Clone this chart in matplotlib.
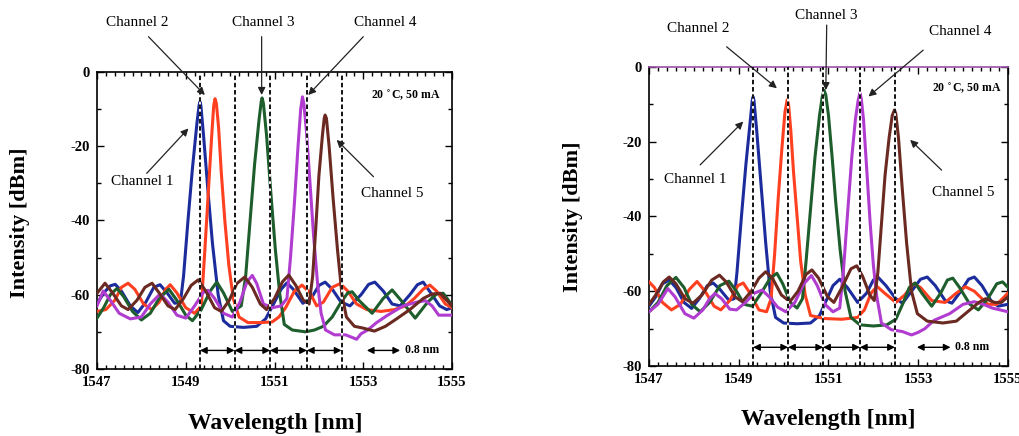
import numpy as np
import matplotlib
matplotlib.use("Agg")
import matplotlib.pyplot as plt
from matplotlib.ticker import MultipleLocator, FixedLocator

plt.rcParams['font.family'] = ['Liberation Serif', 'DejaVu Serif']
plt.rcParams['axes.unicode_minus'] = False

# ---------------- data (wavelength nm, intensity dBm) ----------------
blue_L = [(1547.00,-62.5),(1547.15,-59.5),(1547.30,-57.6),(1547.41,-57.2),(1547.55,-59.0),(1547.75,-63.0),
          (1547.92,-64.8),(1548.10,-62.0),(1548.28,-58.0),(1548.42,-57.3),(1548.58,-59.5),(1548.75,-62.3),
          (1548.88,-62.0),(1548.95,-55.0),(1549.05,-40.0),(1549.15,-26.0),(1549.25,-14.0),(1549.30,-9.0),
          (1549.32,-8.0),(1549.34,-9.0),(1549.40,-17.0),(1549.50,-32.0),(1549.60,-46.0),(1549.73,-60.0),
          (1549.85,-67.0),(1550.00,-68.5),(1550.30,-68.8),(1550.60,-68.5),(1550.80,-66.5),(1551.00,-62.0),
          (1551.15,-58.5),(1551.28,-56.8),(1551.42,-58.5),(1551.64,-62.3),(1551.85,-60.5),(1552.00,-57.5),
          (1552.14,-56.6),(1552.30,-58.5),(1552.50,-62.0),(1552.70,-63.0),(1552.95,-60.0),(1553.12,-57.2),
          (1553.26,-56.6),(1553.45,-59.0),(1553.65,-62.5),(1553.83,-63.0),(1554.05,-60.0),(1554.22,-57.3),
          (1554.35,-56.6),(1554.52,-59.5),(1554.72,-63.0),(1554.88,-64.0),(1555.00,-63.5)]
red_L = [(1547.00,-64.5),(1547.20,-64.0),(1547.40,-61.5),(1547.55,-58.0),(1547.70,-56.9),(1547.85,-58.5),
         (1548.05,-62.5),(1548.23,-64.0),(1548.40,-62.0),(1548.55,-58.5),(1548.65,-57.3),(1548.80,-59.5),
         (1549.00,-63.5),(1549.20,-65.0),(1549.35,-63.0),(1549.42,-50.0),(1549.50,-34.0),(1549.58,-18.0),
         (1549.63,-9.0),(1549.66,-7.2),(1549.69,-8.5),(1549.74,-15.0),(1549.80,-27.0),(1549.88,-40.0),
         (1549.97,-52.0),(1550.07,-61.0),(1550.20,-66.0),(1550.40,-67.5),(1550.70,-67.5),(1550.95,-67.3),
         (1551.10,-66.0),(1551.25,-63.5),(1551.45,-59.0),(1551.62,-57.4),(1551.80,-59.5),(1551.95,-63.0),
         (1552.10,-62.0),(1552.30,-58.0),(1552.48,-57.0),(1552.65,-59.0),(1552.85,-62.5),(1553.08,-64.0),
         (1553.40,-64.5),(1553.70,-64.0),(1553.95,-63.0),(1554.15,-61.0),(1554.35,-58.5),(1554.50,-57.4),
         (1554.65,-59.0),(1554.85,-62.5),(1555.00,-63.5)]
green_L = [(1547.00,-66.3),(1547.15,-63.5),(1547.30,-60.0),(1547.45,-58.3),(1547.60,-60.5),(1547.80,-64.5),
           (1548.00,-66.8),(1548.20,-65.0),(1548.40,-61.0),(1548.62,-58.5),(1548.80,-61.5),(1549.00,-65.5),
           (1549.15,-67.0),(1549.35,-64.0),(1549.55,-59.0),(1549.70,-56.6),(1549.85,-59.5),(1550.05,-64.5),
           (1550.25,-63.0),(1550.35,-55.0),(1550.45,-40.0),(1550.55,-25.0),(1550.65,-13.0),(1550.70,-8.0),
           (1550.72,-7.0),(1550.75,-8.5),(1550.82,-17.0),(1550.92,-33.0),(1551.02,-48.0),(1551.12,-60.0),
           (1551.22,-68.0),(1551.40,-69.5),(1551.70,-70.0),(1551.90,-69.5),(1552.10,-68.5),(1552.30,-66.0),
           (1552.50,-62.0),(1552.65,-59.5),(1552.75,-59.2),(1552.90,-61.5),(1553.20,-65.0),(1553.45,-61.0),
           (1553.65,-58.7),(1553.85,-61.5),(1554.17,-66.3),(1554.45,-62.0),(1554.65,-59.8),(1554.80,-59.6),
           (1554.92,-61.5),(1555.00,-63.0)]
magenta_L = [(1547.00,-63.0),(1547.14,-59.0),(1547.30,-61.5),(1547.50,-65.0),(1547.75,-66.5),(1548.00,-66.0),
             (1548.20,-62.5),(1548.42,-59.8),(1548.60,-62.0),(1548.80,-65.5),(1549.00,-66.3),(1549.20,-63.0),
             (1549.40,-59.3),(1549.50,-58.8),(1549.65,-61.0),(1549.85,-65.0),(1550.05,-66.0),(1550.22,-62.0),
             (1550.38,-56.5),(1550.50,-54.8),(1550.60,-57.0),(1550.75,-62.5),(1550.95,-63.5),(1551.15,-63.0),
             (1551.28,-61.0),(1551.36,-50.0),(1551.45,-35.0),(1551.53,-20.0),(1551.59,-10.0),(1551.63,-6.7),
             (1551.66,-8.5),(1551.72,-16.0),(1551.80,-30.0),(1551.88,-44.0),(1551.97,-57.0),(1552.05,-65.0),
             (1552.15,-69.5),(1552.35,-70.8),(1552.60,-70.8),(1552.75,-71.5),(1552.85,-72.0),(1552.95,-70.5),
             (1553.10,-69.5),(1553.30,-67.5),(1553.55,-65.5),(1553.90,-63.0),(1554.20,-62.0),(1554.40,-61.6),
             (1554.55,-63.0),(1554.70,-65.5),(1555.00,-65.5)]
brown_L = [(1547.00,-59.6),(1547.18,-56.9),(1547.35,-59.5),(1547.55,-63.0),(1547.70,-64.0),(1547.90,-61.5),
           (1548.08,-58.0),(1548.24,-56.9),(1548.40,-59.5),(1548.60,-63.0),(1548.76,-64.0),(1548.95,-61.0),
           (1549.12,-57.5),(1549.28,-56.0),(1549.45,-59.0),(1549.65,-63.5),(1549.80,-64.5),(1549.98,-61.5),
           (1550.15,-57.0),(1550.33,-55.2),(1550.50,-58.0),(1550.68,-62.5),(1550.82,-64.0),(1551.00,-61.0),
           (1551.18,-56.5),(1551.32,-54.7),(1551.48,-57.5),(1551.65,-61.5),(1551.78,-62.5),(1551.86,-55.0),
           (1551.93,-42.0),(1552.00,-28.0),(1552.08,-17.0),(1552.12,-12.5),(1552.14,-11.6),(1552.17,-12.5),
           (1552.23,-20.0),(1552.32,-34.0),(1552.42,-48.0),(1552.52,-60.0),(1552.62,-66.0),(1552.80,-68.5),
           (1553.00,-69.0),(1553.25,-69.8),(1553.50,-68.5),(1553.75,-66.5),(1554.05,-64.0),(1554.35,-61.0),
           (1554.55,-59.8),(1554.73,-59.6),(1554.88,-61.5),(1555.00,-63.0)]

blue_R = [(1547.00,-64.0),(1547.15,-61.5),(1547.30,-58.0),(1547.45,-57.0),(1547.60,-59.0),(1547.78,-63.0),
          (1547.95,-64.6),(1548.12,-62.0),(1548.30,-58.5),(1548.43,-57.8),(1548.58,-59.5),(1548.78,-62.4),
          (1548.90,-62.0),(1548.96,-55.0),(1549.06,-40.0),(1549.16,-26.0),(1549.26,-14.0),(1549.30,-9.0),
          (1549.32,-8.0),(1549.34,-9.0),(1549.40,-17.0),(1549.50,-32.0),(1549.60,-47.0),(1549.70,-60.0),
          (1549.82,-67.0),(1550.00,-68.5),(1550.30,-68.7),(1550.60,-68.5),(1550.80,-66.5),(1550.95,-62.5),
          (1551.10,-58.5),(1551.25,-56.8),(1551.42,-59.0),(1551.65,-63.0),(1551.85,-60.5),(1552.00,-57.0),
          (1552.10,-56.2),(1552.28,-58.5),(1552.50,-62.0),(1552.65,-63.2),(1552.85,-60.0),(1553.05,-56.8),
          (1553.20,-56.2),(1553.38,-58.5),(1553.60,-62.5),(1553.75,-63.2),(1553.95,-60.0),(1554.12,-56.8),
          (1554.25,-56.2),(1554.42,-58.5),(1554.62,-62.5),(1554.78,-64.0),(1555.00,-63.5)]
red_R = [(1547.00,-57.5),(1547.12,-59.0),(1547.30,-63.0),(1547.50,-65.0),(1547.70,-63.5),(1547.90,-59.5),
         (1548.07,-57.4),(1548.25,-60.0),(1548.45,-64.0),(1548.60,-65.0),(1548.80,-62.5),(1548.98,-58.5),
         (1549.10,-57.8),(1549.25,-60.5),(1549.45,-65.0),(1549.62,-65.5),(1549.72,-62.0),(1549.80,-50.0),
         (1549.88,-35.0),(1549.96,-22.0),(1550.03,-12.0),(1550.08,-8.8),(1550.11,-10.0),(1550.16,-17.0),
         (1550.22,-28.0),(1550.30,-40.0),(1550.38,-52.0),(1550.48,-61.0),(1550.60,-66.5),(1550.90,-67.3),
         (1551.30,-67.5),(1551.65,-67.0),(1551.80,-65.0),(1551.95,-60.5),(1552.08,-58.7),(1552.25,-60.5),
         (1552.50,-63.0),(1552.70,-61.0),(1552.90,-58.0),(1553.05,-59.0),(1553.30,-62.5),(1553.60,-63.0),
         (1553.85,-60.5),(1554.05,-58.8),(1554.25,-60.0),(1554.55,-63.5),(1554.75,-63.5),(1555.00,-60.5)]
green_R = [(1547.00,-65.5),(1547.20,-63.0),(1547.40,-58.5),(1547.60,-56.3),(1547.78,-59.0),(1547.95,-63.5),
           (1548.14,-65.5),(1548.35,-63.0),(1548.58,-58.5),(1548.78,-57.3),(1548.95,-60.0),(1549.12,-63.5),
           (1549.30,-64.0),(1549.50,-60.5),(1549.70,-56.5),(1549.85,-55.2),(1549.98,-58.0),(1550.15,-63.0),
           (1550.30,-64.5),(1550.42,-62.0),(1550.50,-52.0),(1550.60,-38.0),(1550.70,-24.0),(1550.80,-13.0),
           (1550.86,-8.0),(1550.90,-6.2),(1550.94,-7.5),(1551.00,-13.0),(1551.08,-24.0),(1551.16,-36.0),
           (1551.26,-49.0),(1551.37,-60.0),(1551.50,-67.0),(1551.70,-69.0),(1552.00,-69.3),(1552.30,-69.0),
           (1552.50,-67.5),(1552.65,-63.5),(1552.80,-59.0),(1552.93,-57.8),(1553.08,-60.5),(1553.30,-64.0),
           (1553.50,-60.5),(1553.65,-57.0),(1553.77,-56.5),(1553.92,-59.0),(1554.15,-63.5),(1554.34,-65.0),
           (1554.55,-62.0),(1554.75,-58.0),(1554.88,-57.5),(1555.00,-59.0)]
magenta_R = [(1547.00,-65.5),(1547.20,-63.5),(1547.42,-59.3),(1547.58,-61.5),(1547.80,-66.0),(1548.00,-67.2),
             (1548.20,-65.0),(1548.35,-62.0),(1548.47,-60.6),(1548.62,-62.0),(1548.80,-64.8),(1548.95,-65.0),
             (1549.15,-63.0),(1549.35,-60.5),(1549.52,-59.7),(1549.68,-61.5),(1549.87,-64.3),(1550.05,-65.5),
             (1550.25,-63.0),(1550.45,-58.0),(1550.62,-55.8),(1550.75,-58.5),(1550.92,-63.5),(1551.10,-65.5),
             (1551.25,-64.5),(1551.33,-55.0),(1551.42,-40.0),(1551.52,-24.0),(1551.60,-14.0),(1551.66,-9.0),
             (1551.70,-7.0),(1551.73,-8.5),(1551.78,-14.0),(1551.85,-27.0),(1551.93,-42.0),(1552.00,-53.0),
             (1552.07,-61.0),(1552.18,-68.5),(1552.40,-70.3),(1552.65,-70.8),(1552.85,-71.7),(1553.00,-71.0),
             (1553.15,-70.0),(1553.35,-67.8),(1553.70,-66.0),(1554.00,-63.5),(1554.25,-62.8),(1554.45,-63.5),
             (1554.65,-64.5),(1555.00,-65.5)]
brown_R = [(1547.00,-63.5),(1547.15,-61.0),(1547.32,-57.5),(1547.45,-56.2),(1547.60,-58.0),(1547.80,-62.0),
           (1547.98,-63.2),(1548.18,-61.0),(1548.40,-57.0),(1548.57,-55.7),(1548.72,-57.5),(1548.92,-61.5),
           (1549.08,-62.8),(1549.28,-60.0),(1549.45,-56.5),(1549.60,-54.8),(1549.75,-56.5),(1549.95,-61.0),
           (1550.14,-62.8),(1550.32,-60.0),(1550.50,-55.5),(1550.63,-54.3),(1550.78,-56.5),(1550.98,-61.5),
           (1551.12,-63.0),(1551.30,-59.0),(1551.50,-54.0),(1551.63,-53.2),(1551.76,-56.0),(1551.92,-61.0),
           (1552.02,-62.5),(1552.10,-55.0),(1552.18,-42.0),(1552.26,-29.0),(1552.35,-19.0),(1552.42,-13.0),
           (1552.47,-11.5),(1552.50,-12.5),(1552.56,-19.0),(1552.64,-32.0),(1552.74,-47.0),(1552.85,-60.0),
           (1552.98,-66.0),(1553.20,-68.0),(1553.55,-68.5),(1553.85,-68.0),(1554.10,-65.5),(1554.35,-63.0),
           (1554.50,-62.0),(1554.70,-63.0),(1554.85,-63.0),(1555.00,-61.5)]

grid_L = [1549.32, 1550.10, 1550.90, 1551.73, 1552.51]
grid_R = [1549.32, 1550.10, 1550.88, 1551.70, 1552.48]

channel_names = ["Channel 1", "Channel 2", "Channel 3", "Channel 4", "Channel 5"]
# (text x, text y, arrow start x, y, arrow end x, y)
labels_L = [(1548.01, -29.6, 1548.12, -27.3, 1549.06, -15.2),
            (1547.90, 13.2, 1548.16, 9.5, 1549.43, -6.2),
            (1550.74, 13.2, 1550.71, 9.5, 1550.71, -6.2),
            (1553.49, 13.2, 1553.00, 9.5, 1551.76, -6.2),
            (1553.65, -32.6, 1553.23, -28.2, 1552.40, -18.3)]
labels_R = [(1548.03, -30.0, 1548.14, -26.2, 1549.10, -14.6),
            (1548.10, 10.4, 1548.73, 5.4, 1549.85, -5.7),
            (1550.96, 13.9, 1550.96, 11.2, 1550.94, -6.2),
            (1553.93, 9.4, 1553.11, 4.5, 1551.89, -7.9),
            (1554.00, -33.6, 1553.52, -27.6, 1552.82, -19.5)]

colors = ['#1c2c9c', '#ff4020', '#1d5e2c', '#b03cd0', '#6a2a22']
condition = "20 $^{\\circ}$C, 50 mA"
scale_text = "0.8 nm"
xticks = [1547, 1549, 1551, 1553, 1555]
yticks = [0, -20, -40, -60, -80]

fig = plt.figure(figsize=(10.19, 4.36), dpi=100)
axL = fig.add_axes([0.0952, 0.1537, 0.3484, 0.6812])
axR = fig.add_axes([0.6369, 0.1606, 0.3523, 0.6858])


def panel(ax, series, grid, labels, cond_xy, scale_x):
    for s, c in zip(series, colors):
        a = np.array(s)
        ax.plot(a[:, 0], a[:, 1], color=c, lw=2.2, zorder=3, solid_joinstyle='round')
    for g in grid:
        ax.axvline(g, color='white', lw=1.3, zorder=4)
        ax.axvline(g, color='black', lw=1.3, ls=(0, (2.5, 1.5)), zorder=5)
    for a, b in zip(grid[:-1], grid[1:]):
        ax.annotate('', xy=(b, -75), xytext=(a, -75),
                    arrowprops=dict(arrowstyle='<|-|>', color='k', lw=1.0,
                                    mutation_scale=10, shrinkA=0, shrinkB=0), zorder=6)
    ax.annotate('', xy=(scale_x + 0.75, -75), xytext=(scale_x, -75),
                arrowprops=dict(arrowstyle='<|-|>', color='k', lw=1.0,
                                mutation_scale=10, shrinkA=0, shrinkB=0))
    ax.text(scale_x + 0.85, -75, scale_text, fontsize=8.5, fontweight='bold', va='center', ha='left')
    ax.text(cond_xy[0], cond_xy[1], condition, fontsize=8.5, fontweight='bold', ha='right', va='center')
    for name, (tx, ty, sx, sy, ex, ey) in zip(channel_names, labels):
        ax.text(tx, ty, name, fontsize=11, ha='center', va='center', zorder=7,
                bbox=dict(facecolor='white', edgecolor='none', pad=0.5) if ty < 0 else None)
        ax.annotate('', xy=(ex, ey), xytext=(sx, sy), annotation_clip=False,
                    arrowprops=dict(arrowstyle='-|>', color='#222222', lw=0.9,
                                    mutation_scale=11, shrinkA=0, shrinkB=0), zorder=7)
    ax.set_xlim(1547, 1555)
    ax.set_ylim(-80, 0)
    ax.xaxis.set_major_locator(FixedLocator(xticks))
    ax.xaxis.set_minor_locator(MultipleLocator(0.2))
    ax.yaxis.set_major_locator(FixedLocator(yticks))
    ax.yaxis.set_minor_locator(MultipleLocator(10))
    ax.tick_params(which='both', direction='in', top=True, right=True, width=1.0)
    ax.tick_params(which='major', length=5, labelsize=10.5, pad=5)
    ax.tick_params(which='minor', length=3)
    for lab in ax.get_xticklabels() + ax.get_yticklabels():
        lab.set_fontweight('bold')
    for sp in ax.spines.values():
        sp.set_linewidth(1.2)


panel(axL, [blue_L, red_L, green_L, magenta_L, brown_L], grid_L, labels_L, (1554.75, -6), 1553.08)
panel(axR, [blue_R, red_R, green_R, magenta_R, brown_R], grid_R, labels_R, (1554.85, -5.4), 1552.97)
axR.spines['top'].set_color('#9a50a8')

fig.text(20 / 1019, 1 - 223 / 436, "Intensity [dBm]", rotation=90, fontsize=16,
         fontweight='bold', ha='center', va='center')
fig.text(573 / 1019, 1 - 217 / 436, "Intensity [dBm]", rotation=90, fontsize=16,
         fontweight='bold', ha='center', va='center')
fig.text(275 / 1019, 1 - 423 / 436, "Wavelength [nm]", fontsize=17,
         fontweight='bold', ha='center', va='center')
fig.text(828 / 1019, 1 - 419 / 436, "Wavelength [nm]", fontsize=17,
         fontweight='bold', ha='center', va='center')

fig.savefig("out.png", dpi=100, facecolor='white')
